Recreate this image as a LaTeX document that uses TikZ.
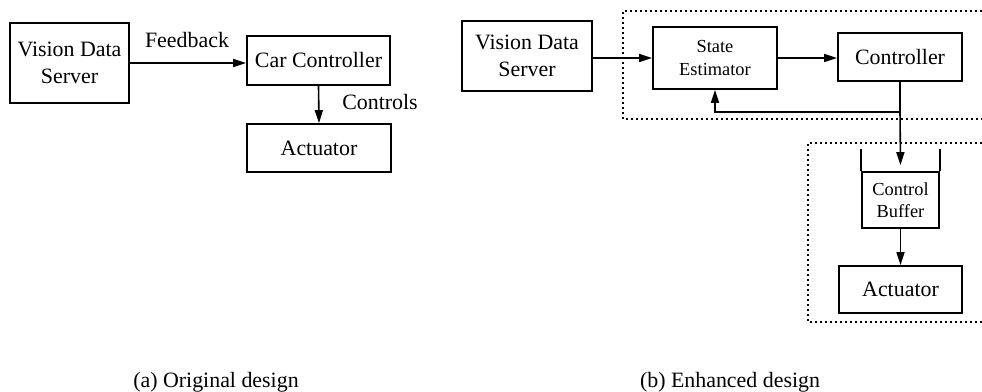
\documentclass[tikz,border=0pt]{standalone}
\usepackage{fontspec}
\setmainfont{Liberation Serif}
\usetikzlibrary{arrows.meta}
\begin{document}
\begin{tikzpicture}[x=1pt,y=-1pt,
  box/.style={draw=black,line width=1.7pt,inner sep=0pt,align=center,
    font=\fontsize{21.9pt}{27pt}\selectfont},
  smallbox/.style={box,font=\fontsize{18.4pt}{22.5pt}\selectfont},
  lbl/.style={inner sep=0pt,font=\fontsize{21.9pt}{27pt}\selectfont},
  conn/.style={line width=1.6pt,-{Triangle[length=13pt,width=8pt]}},
  plain/.style={line width=1.6pt},
  dotbox/.style={line width=1.7pt,dash pattern=on 1.6pt off 3.4pt}]
\fill[white] (0,0) rectangle (982,391);
\useasboundingbox (0,0) rectangle (982,391);

% ---- (a) original design
\node[box,minimum width=119pt,minimum height=80pt] (vds1) at (69.5,63) {Vision Data\\Server};
\node[box,minimum width=143pt,minimum height=49pt] (cc) at (318.5,60.5) {Car Controller};
\node[box,minimum width=144pt,minimum height=48pt] (act1) at (319,148) {Actuator};
\node[lbl] (fbl) at (187,40) {Feedback};
\node[lbl] (ctl) at (380,102) {Controls};
\draw[conn] (vds1.east) -- (vds1.east -| cc.west);
\draw[conn] (cc.south) -- (act1.north);
\node[lbl,anchor=base] (capa) at (216,387) {(a) Original design};

% ---- (b) enhanced design
\draw[dotbox] (982,11) -- (623,11) -- (623,119) -- (982,119);
\draw[dotbox] (982,143) -- (808,143) -- (808,322) -- (982,322);
\node[box,minimum width=130pt,minimum height=70pt] (vds2) at (527,56) {Vision Data\\Server};
\node[smallbox,minimum width=124pt,minimum height=62pt] (se) at (715,58) {State\\Estimator};
\node[box,minimum width=124pt,minimum height=48pt] (ctrl) at (900,57) {Controller};
\node[smallbox,minimum width=77pt,minimum height=56pt] (cb) at (900.5,200) {Control\\Buffer};
\node[box,minimum width=123pt,minimum height=47pt] (act2) at (900.5,289.5) {Actuator};
\coordinate (j) at (900,112);
\draw[conn] (se.west -| vds2.east) -- (se.west);
\draw[conn] (se.east) -- (se.east -| ctrl.west);
\draw[plain] (ctrl.south) -- (j);
\draw[conn] (j) -| (se.south);
\draw[conn] (j) -- ([yshift=6pt]cb.north);
\draw[line width=1.7pt] (cb.north west) -- ++(0,-22);
\draw[line width=1.7pt] (cb.north east) -- ++(0,-22);
\draw[conn] (cb.south) -- (act2.north);
\node[lbl,anchor=base] (capb) at (730,387) {(b) Enhanced design};
\end{tikzpicture}
\end{document}
